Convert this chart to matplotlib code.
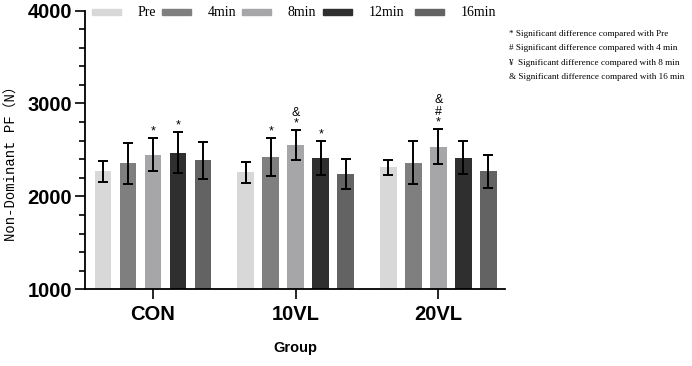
import matplotlib
matplotlib.use("Agg")
import matplotlib.pyplot as plt
from matplotlib.patches import Rectangle
from matplotlib.ticker import MultipleLocator
import numpy as np

groups = ["CON", "10VL", "20VL"]
series = ["Pre", "4min", "8min", "12min", "16min"]
colors = ["#d8d8d8", "#7f7f7f", "#a6a6a9", "#2f2f2f", "#636363"]

means = {
    "Pre":   [2268, 2257, 2314],
    "4min":  [2357, 2421, 2364],
    "8min":  [2450, 2550, 2536],
    "12min": [2468, 2414, 2418],
    "16min": [2389, 2243, 2268],
}
errs = {
    "Pre":   [112, 110, 80],
    "4min":  [220, 202, 232],
    "8min":  [177, 159, 185],
    "12min": [220, 185, 179],
    "16min": [198, 160, 182],
}
# significance marks (bottom to top) per (series, group index)
marks = {
    ("8min", 0): ["*"],
    ("12min", 0): ["*"],
    ("4min", 1): ["*"],
    ("8min", 1): ["*", "&"],
    ("12min", 1): ["*"],
    ("8min", 2): ["*", "#", "&"],
}
notes = [
    "* Significant difference compared with Pre",
    "# Significant difference compared with 4 min",
    "\u00a5  Significant difference compared with 8 min",
    "& Significant difference compared with 16 min",
]

W, H = 692, 366
fig = plt.figure(figsize=(W / 100, H / 100), dpi=100)
ax = fig.add_axes([85 / W, 1 - 289.3 / H, (505 - 85) / W, (289.3 - 10.5) / H])

x = np.arange(len(groups))
step = 0.1755
width = 0.117
for i, s in enumerate(series):
    xs = x + (i - 2) * step
    ax.bar(xs, means[s], width=width, color=colors[i], zorder=2)
    ax.errorbar(xs, means[s], yerr=errs[s], fmt="none", ecolor="black",
                elinewidth=1.4, capsize=3.8, capthick=1.4, zorder=3)
    for g in range(len(groups)):
        for k, m in enumerate(marks.get((s, g), [])):
            ax.annotate(m, xy=(xs[g], means[s][g] + errs[s][g]),
                        xytext=(0, 0.5 + 8 * k), textcoords="offset points",
                        ha="center", va="bottom", fontsize=9,
                        family="Liberation Sans")

ax.set_xlim(-0.477, 2.467)
ax.set_ylim(1000, 4000)
ax.set_yticks([1000, 2000, 3000, 4000])
ax.yaxis.set_minor_locator(MultipleLocator(200))
ax.set_xticks(x)
ax.set_xticklabels(groups)
for lab in ax.get_xticklabels() + ax.get_yticklabels():
    lab.set_family("Liberation Sans")
    lab.set_fontweight("bold")
    lab.set_fontsize(14.5)
ax.tick_params(axis="y", which="major", length=7.5, width=1.2, pad=2)
ax.tick_params(axis="y", which="minor", length=4, width=1.2)
ax.tick_params(axis="x", which="major", length=7.5, width=1.2, pad=4)
for sp in ["top", "right"]:
    ax.spines[sp].set_visible(False)
for sp in ["left", "bottom"]:
    ax.spines[sp].set_linewidth(1.3)

ax.set_xlabel("Group", family="Liberation Sans", fontweight="bold",
              fontsize=10.5, labelpad=12)
fig.text(12 / W, 1 - 160 / H, "Non-Dominant PF\uff08N\uff09", rotation=90,
         ha="center", va="center", fontsize=10,
         family=["Liberation Mono", "Noto Sans CJK SC"])

# legend drawn across the top
patch_x = [92, 162, 242, 323, 415]
for i, s in enumerate(series):
    px = patch_x[i]
    fig.patches.append(Rectangle((px / W, 1 - 14.5 / H), 29 / W, 5 / H,
                                 transform=fig.transFigure,
                                 color=colors[i], figure=fig))
    fig.text((px + 46) / W, 1 - 12 / H, s, ha="left", va="center",
             fontsize=10, family="Liberation Serif")

for k, t in enumerate(notes):
    fig.text(509 / W, 1 - (34 + 14.3 * k) / H, t, ha="left", va="center",
             fontsize=6.6, family=["Liberation Serif", "DejaVu Serif"])

fig.savefig("out.png", dpi=100)
